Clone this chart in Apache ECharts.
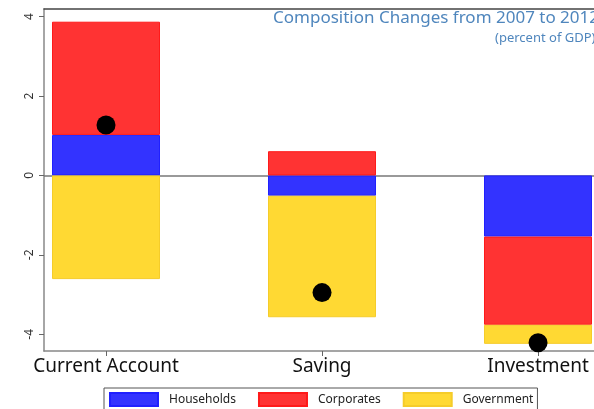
<!DOCTYPE html>
<html>
<head>
<meta charset="utf-8">
<script src="https://cdn.jsdelivr.net/npm/echarts@6/dist/echarts.min.js"></script>
<style>
  html, body { margin: 0; padding: 0; background: #fff; }
  #chart { width: 594px; height: 409px; }
</style>
</head>
<body>
<div id="chart"></div>
<script>
var categories = ['Current Account', 'Saving', 'Investment']
var categoryPos = [1, 2, 3]
var households = [1.02, -0.51, -1.54]
var corporates = [2.85, 0.61, -2.22]
var government = [-2.61, -3.06, -0.48]
var totals = [1.27, -2.95, -4.21]
var yTicks = [-4, -2, 0, 2, 4]

var font = 'Noto Sans'
var yMin = -4.42
var yMax = 4.19

var chart = echarts.init(document.getElementById('chart'))

// grid 0 holds the visible frame and the dots, grid 1 the stacked bars
// (category bands of 216px, so the grid runs past the left axis and the right edge)
function barSeries(name, vals, color, border) {
  return {
    name: name,
    type: 'bar',
    stack: 'total',
    xAxisIndex: 2,
    yAxisIndex: 1,
    barWidth: 108,
    data: vals,
    itemStyle: { color: color, borderColor: border, borderWidth: 1 },
    emphasis: { disabled: true }
  }
}

chart.setOption({
  animation: false,
  title: [
    {
      text: 'Composition Changes from 2007 to 2012',
      left: 273,
      top: 10,
      padding: 0,
      textStyle: { fontFamily: font, fontSize: 17, fontWeight: 'normal', color: '#4f86bd' }
    },
    {
      text: '(percent of GDP)',
      left: 495,
      top: 32,
      padding: 0,
      textStyle: { fontFamily: font, fontSize: 13, fontWeight: 'normal', color: '#4f86bd' }
    }
  ],
  legend: {
    data: ['Households', 'Corporates', 'Government'],
    left: 104,
    top: 388,
    itemWidth: 48,
    itemHeight: 13,
    itemGap: 22,
    padding: [4, 4, 4, 5],
    borderColor: '#555',
    borderWidth: 1,
    icon: 'rect',
    selectedMode: false,
    textStyle: { fontFamily: font, fontSize: 12, color: '#222', padding: [0, 0, 0, 6] }
  },
  grid: [
    { left: 44, right: 0, top: 9, bottom: 58, outerBoundsMode: 'none' },
    { left: -2, width: 648, top: 9, bottom: 58, outerBoundsMode: 'none' }
  ],
  xAxis: [
    {
      type: 'value',
      gridIndex: 0,
      position: 'bottom',
      min: 0.713,
      max: 3.259,
      axisLine: { onZero: false, lineStyle: { color: '#888', width: 1.5 } },
      axisTick: { show: true, length: 5, customValues: categoryPos, lineStyle: { color: '#666' } },
      axisLabel: {
        customValues: categoryPos,
        margin: 6,
        fontFamily: font,
        fontSize: 19,
        color: '#111',
        formatter: function(v) {
          return categories[Math.round(v) - 1]
        }
      },
      splitLine: { show: false }
    },
    {
      type: 'value',
      gridIndex: 0,
      position: 'top',
      min: 0.713,
      max: 3.259,
      axisLine: { show: true, onZero: false, lineStyle: { color: '#444', width: 1.5 } },
      axisTick: { show: false },
      axisLabel: { show: false },
      splitLine: { show: false }
    },
    {
      type: 'category',
      gridIndex: 1,
      data: categories,
      boundaryGap: true,
      show: false
    }
  ],
  yAxis: [
    {
      type: 'value',
      gridIndex: 0,
      min: yMin,
      max: yMax,
      axisLine: { show: true, lineStyle: { color: '#888', width: 1.5 } },
      axisTick: { show: true, length: 5, customValues: yTicks, lineStyle: { color: '#666' } },
      axisLabel: {
        customValues: yTicks,
        rotate: 90,
        margin: 8,
        fontFamily: font,
        fontSize: 12,
        color: '#333'
      },
      splitLine: { show: false }
    },
    {
      type: 'value',
      gridIndex: 1,
      min: yMin,
      max: yMax,
      show: false,
      splitLine: { show: false }
    }
  ],
  series: [
    barSeries('Households', households, '#3333ff', '#2020ff'),
    barSeries('Corporates', corporates, '#ff3333', '#ff1a1a'),
    barSeries('Government', government, '#ffd933', '#f5cc2a'),
    {
      name: 'Total',
      type: 'scatter',
      xAxisIndex: 0,
      yAxisIndex: 0,
      data: totals.map(function(v, i) {
        return [categoryPos[i], v]
      }),
      symbolSize: 19,
      clip: false,
      z: 5,
      itemStyle: { color: '#000', opacity: 1 },
      emphasis: { disabled: true },
      markLine: {
        silent: true,
        z: 1,
        symbol: 'none',
        label: { show: false },
        lineStyle: { color: '#777', width: 1.5, type: 'solid' },
        data: [{ yAxis: 0 }]
      }
    }
  ]
})
</script>
</body>
</html>
